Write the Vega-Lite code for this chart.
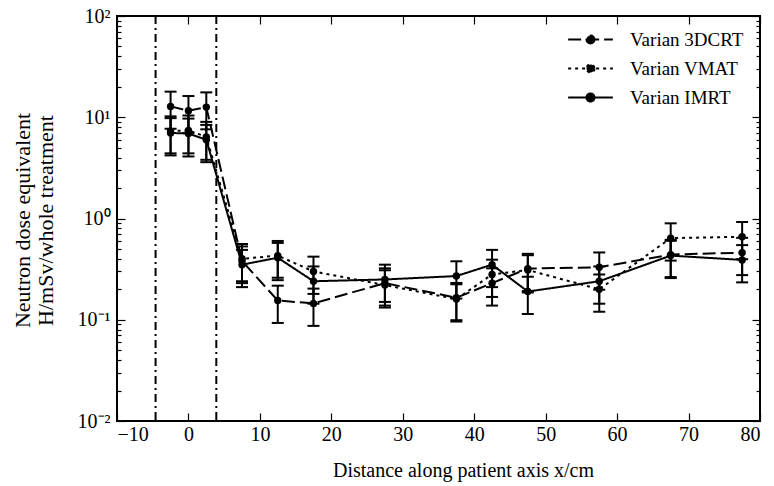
{
  "$schema": "https://vega.github.io/schema/vega-lite/v6.json",
  "width": 643,
  "height": 405,
  "autosize": {"type": "none"},
  "padding": {"left": 117, "top": 16, "right": 14, "bottom": 65},
  "background": "white",
  "config": {
    "view": {"stroke": "black", "strokeWidth": 2},
    "font": "Liberation Serif",
    "axis": {
      "labelFont": "Liberation Serif",
      "titleFont": "Liberation Serif",
      "labelFontSize": 20,
      "titleFontSize": 20,
      "titleFontWeight": "normal",
      "labelColor": "black",
      "titleColor": "black",
      "tickColor": "black",
      "tickWidth": 1.2,
      "domain": false,
      "grid": false
    }
  },
  "datasets": {
    "d": [
      {"series": "Varian 3DCRT", "x": -2.5, "y": 12.8, "lo": 7.7, "hi": 17.9},
      {"series": "Varian 3DCRT", "x": 0, "y": 11.6, "lo": 7.0, "hi": 16.2},
      {"series": "Varian 3DCRT", "x": 2.5, "y": 12.6, "lo": 7.6, "hi": 17.6},
      {"series": "Varian 3DCRT", "x": 7.5, "y": 0.38, "lo": 0.23, "hi": 0.53},
      {"series": "Varian 3DCRT", "x": 12.5, "y": 0.155, "lo": 0.093, "hi": 0.217},
      {"series": "Varian 3DCRT", "x": 17.5, "y": 0.145, "lo": 0.087, "hi": 0.203},
      {"series": "Varian 3DCRT", "x": 27.5, "y": 0.23, "lo": 0.138, "hi": 0.322},
      {"series": "Varian 3DCRT", "x": 37.5, "y": 0.165, "lo": 0.099, "hi": 0.231},
      {"series": "Varian 3DCRT", "x": 42.5, "y": 0.23, "lo": 0.138, "hi": 0.322},
      {"series": "Varian 3DCRT", "x": 47.5, "y": 0.32, "lo": 0.192, "hi": 0.448},
      {"series": "Varian 3DCRT", "x": 57.5, "y": 0.33, "lo": 0.198, "hi": 0.462},
      {"series": "Varian 3DCRT", "x": 67.5, "y": 0.44, "lo": 0.264, "hi": 0.616},
      {"series": "Varian 3DCRT", "x": 77.5, "y": 0.46, "lo": 0.276, "hi": 0.644},
      {"series": "Varian VMAT", "x": -2.5, "y": 7.3, "lo": 4.4, "hi": 10.2},
      {"series": "Varian VMAT", "x": 0, "y": 7.4, "lo": 4.4, "hi": 10.4},
      {"series": "Varian VMAT", "x": 2.5, "y": 6.4, "lo": 3.8, "hi": 9.0},
      {"series": "Varian VMAT", "x": 7.5, "y": 0.40, "lo": 0.24, "hi": 0.56},
      {"series": "Varian VMAT", "x": 12.5, "y": 0.43, "lo": 0.26, "hi": 0.60},
      {"series": "Varian VMAT", "x": 17.5, "y": 0.30, "lo": 0.18, "hi": 0.42},
      {"series": "Varian VMAT", "x": 27.5, "y": 0.22, "lo": 0.132, "hi": 0.308},
      {"series": "Varian VMAT", "x": 37.5, "y": 0.16, "lo": 0.096, "hi": 0.224},
      {"series": "Varian VMAT", "x": 42.5, "y": 0.28, "lo": 0.168, "hi": 0.392},
      {"series": "Varian VMAT", "x": 47.5, "y": 0.31, "lo": 0.186, "hi": 0.434},
      {"series": "Varian VMAT", "x": 57.5, "y": 0.20, "lo": 0.12, "hi": 0.28},
      {"series": "Varian VMAT", "x": 67.5, "y": 0.64, "lo": 0.384, "hi": 0.896},
      {"series": "Varian VMAT", "x": 77.5, "y": 0.66, "lo": 0.396, "hi": 0.924},
      {"series": "Varian IMRT", "x": -2.5, "y": 7.0, "lo": 4.2, "hi": 9.8},
      {"series": "Varian IMRT", "x": 0, "y": 6.9, "lo": 4.1, "hi": 9.7},
      {"series": "Varian IMRT", "x": 2.5, "y": 6.0, "lo": 3.6, "hi": 8.4},
      {"series": "Varian IMRT", "x": 7.5, "y": 0.35, "lo": 0.21, "hi": 0.49},
      {"series": "Varian IMRT", "x": 12.5, "y": 0.41, "lo": 0.246, "hi": 0.574},
      {"series": "Varian IMRT", "x": 17.5, "y": 0.24, "lo": 0.144, "hi": 0.336},
      {"series": "Varian IMRT", "x": 27.5, "y": 0.25, "lo": 0.15, "hi": 0.35},
      {"series": "Varian IMRT", "x": 37.5, "y": 0.27, "lo": 0.162, "hi": 0.378},
      {"series": "Varian IMRT", "x": 42.5, "y": 0.35, "lo": 0.21, "hi": 0.49},
      {"series": "Varian IMRT", "x": 47.5, "y": 0.19, "lo": 0.114, "hi": 0.266},
      {"series": "Varian IMRT", "x": 57.5, "y": 0.24, "lo": 0.144, "hi": 0.336},
      {"series": "Varian IMRT", "x": 67.5, "y": 0.43, "lo": 0.258, "hi": 0.602},
      {"series": "Varian IMRT", "x": 77.5, "y": 0.39, "lo": 0.234, "hi": 0.546}
    ],
    "v": [{"xv": -4.6}, {"xv": 3.9}]
  },
  "layer": [
    {
      "data": {"name": "v"},
      "mark": {"type": "rule", "color": "black", "strokeWidth": 2, "strokeDash": [8, 4, 2, 4]},
      "encoding": {
        "x": {"field": "xv", "type": "quantitative", "scale": {"domain": [-10, 80], "nice": false, "zero": false}, "axis": null}
      }
    },
    {
      "data": {"name": "d"},
      "mark": {"type": "rule", "color": "black", "strokeWidth": 2},
      "encoding": {
        "x": {"field": "x", "type": "quantitative", "scale": {"domain": [-10, 80], "nice": false, "zero": false},
          "axis": {"orient": "bottom", "values": [-10, 0, 10, 20, 30, 40, 50, 60, 70, 80], "tickSize": -8, "labelPadding": 11,
            "labelExpr": "datum.value < 0 ? '−' + abs(datum.value) : datum.label",
            "title": "Distance along patient axis x/cm", "titleX": 346, "titleY": 49, "titleAlign": "center", "titleBaseline": "middle"}},
        "y": {"field": "lo", "type": "quantitative", "scale": {"type": "log", "domain": [0.01, 100], "nice": false},
          "axis": {"orient": "left", "values": [0.01, 0.1, 1, 10, 100], "tickSize": -8, "labelPadding": 15,
            "labelExpr": "datum.value > 50 ? '10²' : datum.value > 5 ? '10¹' : datum.value > 0.5 ? '10⁰' : datum.value > 0.05 ? '10⁻¹' : '10⁻²'",
            "title": ["Neutron dose equivalent", "H/mSv/whole treatment"], "titleX": -95, "titleY": 204, "titleAngle": -90,
            "titleAlign": "center", "titleBaseline": "middle", "titleLineHeight": 23, "titleFontSize": 22}},
        "y2": {"field": "hi"}
      }
    },
    {
      "data": {"name": "d"},
      "mark": {"type": "tick", "color": "black", "opacity": 1, "orient": "horizontal", "size": 12, "thickness": 2},
      "encoding": {
        "x": {"field": "x", "type": "quantitative", "scale": {"domain": [-10, 80], "nice": false, "zero": false},
          "axis": {"orient": "top", "values": [-10, 0, 10, 20, 30, 40, 50, 60, 70, 80], "tickSize": -8, "labels": false, "title": null}},
        "y": {"field": "lo", "type": "quantitative", "scale": {"type": "log", "domain": [0.01, 100], "nice": false},
          "axis": {"orient": "right", "values": [0.01, 0.1, 1, 10, 100], "tickSize": -8, "labels": false, "title": null}}
      }
    },
    {
      "data": {"name": "d"},
      "mark": {"type": "tick", "color": "black", "opacity": 1, "orient": "horizontal", "size": 12, "thickness": 2},
      "encoding": {
        "x": {"field": "x", "type": "quantitative", "scale": {"domain": [-10, 80], "nice": false, "zero": false}, "axis": null},
        "y": {"field": "hi", "type": "quantitative", "scale": {"type": "log", "domain": [0.01, 100], "nice": false},
          "axis": {"orient": "left", "values": [0.02, 0.03, 0.04, 0.05, 0.06, 0.07, 0.08, 0.09, 0.2, 0.3, 0.4, 0.5, 0.6, 0.7, 0.8, 0.9, 2, 3, 4, 5, 6, 7, 8, 9, 20, 30, 40, 50, 60, 70, 80, 90], "tickSize": -4, "labels": false, "title": null}}
      }
    },
    {
      "data": {"name": "d"},
      "mark": {"type": "line", "color": "black", "strokeWidth": 2},
      "encoding": {
        "x": {"field": "x", "type": "quantitative", "scale": {"domain": [-10, 80], "nice": false, "zero": false}, "axis": null},
        "y": {"field": "y", "type": "quantitative", "scale": {"type": "log", "domain": [0.01, 100], "nice": false},
          "axis": {"orient": "right", "values": [0.02, 0.03, 0.04, 0.05, 0.06, 0.07, 0.08, 0.09, 0.2, 0.3, 0.4, 0.5, 0.6, 0.7, 0.8, 0.9, 2, 3, 4, 5, 6, 7, 8, 9, 20, 30, 40, 50, 60, 70, 80, 90], "tickSize": -4, "labels": false, "title": null}},
        "strokeDash": {"field": "series", "type": "nominal",
          "scale": {"domain": ["Varian 3DCRT", "Varian VMAT", "Varian IMRT"], "range": [[13, 5], [3, 4], [1, 0]]},
          "legend": {"title": null, "orient": "none", "legendX": 461, "legendY": 11, "padding": 0,
            "symbolType": "M-2,0H2M0.36,0A0.36,0.36 0 1,1 -0.36,0A0.36,0.36 0 1,1 0.36,0Z",
            "symbolSize": 500, "symbolStrokeWidth": 2, "symbolStrokeColor": "black", "symbolFillColor": "black",
            "labelFont": "Liberation Serif", "labelFontSize": 19, "labelColor": "black", "labelOffset": 27, "rowPadding": 6}}
      }
    },
    {
      "data": {"name": "d"},
      "mark": {"type": "point", "filled": true, "color": "black", "opacity": 1, "size": 55},
      "encoding": {
        "x": {"field": "x", "type": "quantitative", "scale": {"domain": [-10, 80], "nice": false, "zero": false}, "axis": null},
        "y": {"field": "y", "type": "quantitative", "scale": {"type": "log", "domain": [0.01, 100], "nice": false}, "axis": null}
      }
    }
  ],
  "resolve": {"axis": {"x": "independent", "y": "independent"}}
}
